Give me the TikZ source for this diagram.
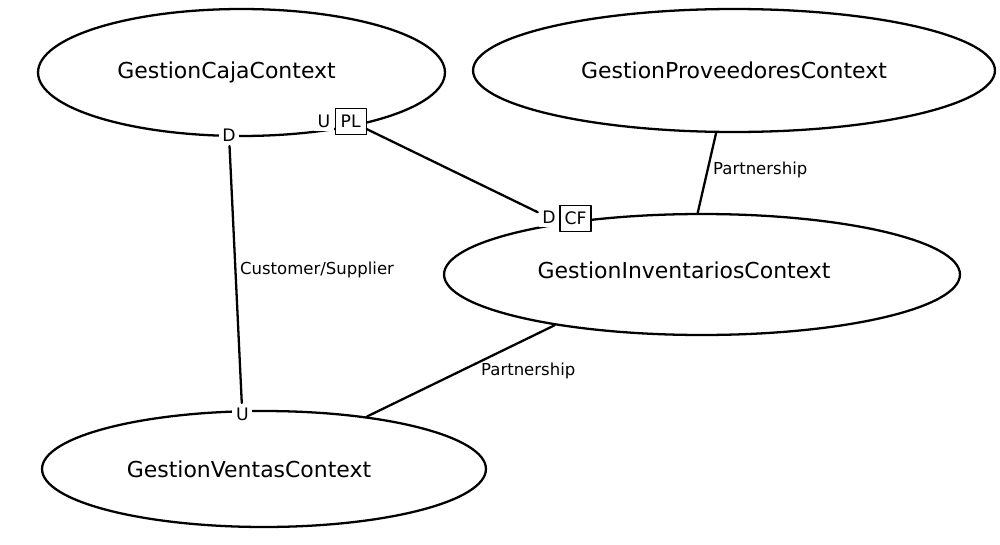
\documentclass[tikz,border=0pt]{standalone}
\usepackage{fontspec}
\setmainfont{DejaVu Sans}
\usetikzlibrary{shapes.geometric}
\begin{document}
\begin{tikzpicture}[x=0.02cm,y=-0.02cm,line join=round,line cap=round,line width=1.3pt]
	\tikzset{ctx/.style={draw,ellipse,inner sep=0pt},
		bigtxt/.style={font=\fontsize{12.5}{15}\selectfont},
		endlbl/.style={fill=white,inner sep=2pt,font=\fontsize{9.8}{12}\selectfont},
		patbox/.style={draw,fill=white,line width=0.6pt,inner sep=0pt,minimum width=0.62cm,minimum height=0.52cm,font=\fontsize{9.8}{12}\selectfont},
		rel/.style={inner sep=0pt,anchor=west,font=\fontsize{9.4}{11}\selectfont}}
	\useasboundingbox (0,0) rectangle (1000,544);
	\node[ctx,minimum width=8.14cm,minimum height=2.54cm,label={[bigtxt,xshift=-0.3cm]center:GestionCajaContext}] (caja) at (241.5,72.5) {};
	\node[ctx,minimum width=10.44cm,minimum height=2.46cm,label={[bigtxt]center:GestionProveedoresContext}] (prov) at (734,70.5) {};
	\node[ctx,minimum width=10.32cm,minimum height=2.42cm,label={[bigtxt,xshift=-0.36cm,yshift=0.09cm]center:GestionInventariosContext}] (inv) at (702,274.5) {};
	\node[ctx,minimum width=8.88cm,minimum height=2.32cm,label={[bigtxt,xshift=-0.3cm]center:GestionVentasContext}] (ventas) at (264,469) {};
	\node[endlbl] (cajaD) at (229,135) {D};
	\node[endlbl] (cajaU) at (324,121) {U};
	\node[patbox] (cajaPL) at (350.7,121.3) {PL};
	\node[endlbl] (invD) at (549,217.7) {D};
	\node[patbox] (invCF) at (575.5,218.7) {CF};
	\node[endlbl] (ventasU) at (242.3,414) {U};
	\draw (cajaD) -- (ventasU);
	\draw (cajaPL) -- (invD);
	\draw (prov.254.8) -- (inv.94.6);
	\draw (inv.199) -- (ventas.27.8);
	\node[rel] (csLbl) at (239,270) {Customer/Supplier};
	\node[rel] (partLblA) at (712,170) {Partnership};
	\node[rel] (partLblB) at (480,371) {Partnership};
\end{tikzpicture}
\end{document}
